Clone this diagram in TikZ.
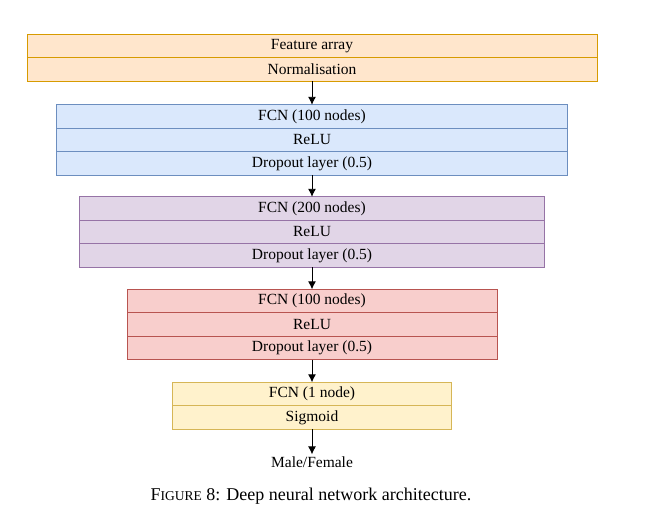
\documentclass[tikz,border=0pt]{standalone}
\usepackage{fontspec}
\setmainfont{Liberation Serif}
\usetikzlibrary{positioning,arrows.meta}

\definecolor{orgfill}{HTML}{FFE6CC}\definecolor{orgline}{HTML}{D79B00}
\definecolor{bluefill}{HTML}{DAE8FC}\definecolor{blueline}{HTML}{6C8EBF}
\definecolor{purpfill}{HTML}{E1D5E7}\definecolor{purpline}{HTML}{9673A6}
\definecolor{redfill}{HTML}{F8CECC}\definecolor{redline}{HTML}{B85450}
\definecolor{yelfill}{HTML}{FFF2CC}\definecolor{yelline}{HTML}{D6B656}

\tikzset{
  layer/.style={draw, rectangle, inner sep=0pt, outer sep=0pt, line width=0.9pt,
    minimum height=23.4pt, font=\fontsize{15.5}{17}\selectfont},
  inlayer/.style={layer, fill=orgfill, draw=orgline, minimum width=570pt},
  bluelayer/.style={layer, fill=bluefill, draw=blueline, minimum width=511pt},
  purplayer/.style={layer, fill=purpfill, draw=purpline, minimum width=465pt},
  redlayer/.style={layer, fill=redfill, draw=redline, minimum width=370pt},
  yellayer/.style={layer, fill=yelfill, draw=yelline, minimum width=279pt},
  flow/.style={-{Latex[length=8pt,width=8pt]}, line width=0.9pt}
}

\begin{document}
\begin{tikzpicture}[x=1pt, y=-1pt]
\useasboundingbox (0,0) rectangle (648,520);

% Input
\node[inlayer] (feat) at (312,46) {Feature array};
\node[inlayer, below=0pt of feat] (norm) {Normalisation};

% First hidden block
\node[bluelayer] (fcnA) at (312,116.5) {FCN (100 nodes)};
\node[bluelayer, below=0pt of fcnA] (reluA) {ReLU};
\node[bluelayer, below=0pt of reluA] (dropA) {Dropout layer (0.5)};

% Second hidden block
\node[purplayer] (fcnB) at (312,208.5) {FCN (200 nodes)};
\node[purplayer, below=0pt of fcnB] (reluB) {ReLU};
\node[purplayer, below=0pt of reluB] (dropB) {Dropout layer (0.5)};

% Third hidden block
\node[redlayer] (fcnC) at (312,301) {FCN (100 nodes)};
\node[redlayer, below=0pt of fcnC] (reluC) {ReLU};
\node[redlayer, below=0pt of reluC] (dropC) {Dropout layer (0.5)};

% Output layer
\node[yellayer] (fcnD) at (312,394) {FCN (1 node)};
\node[yellayer, below=0pt of fcnD] (sigm) {Sigmoid};

% Output
\node[inner sep=2pt, font=\fontsize{15.5}{17}\selectfont] (out) at (312,462) {Male/Female};

% Arrows
\draw[flow] (norm) -- (fcnA);
\draw[flow] (dropA) -- (fcnB);
\draw[flow] (dropB) -- (fcnC);
\draw[flow] (dropC) -- (fcnD);
\draw[flow] (sigm) -- (out);

% Caption
\node[font=\fontsize{18}{20}\selectfont] (caption) at (311,496)
  {F{\fontsize{13.5}{15}\selectfont IGURE} 8: Deep neural network architecture.};

\end{tikzpicture}
\end{document}
